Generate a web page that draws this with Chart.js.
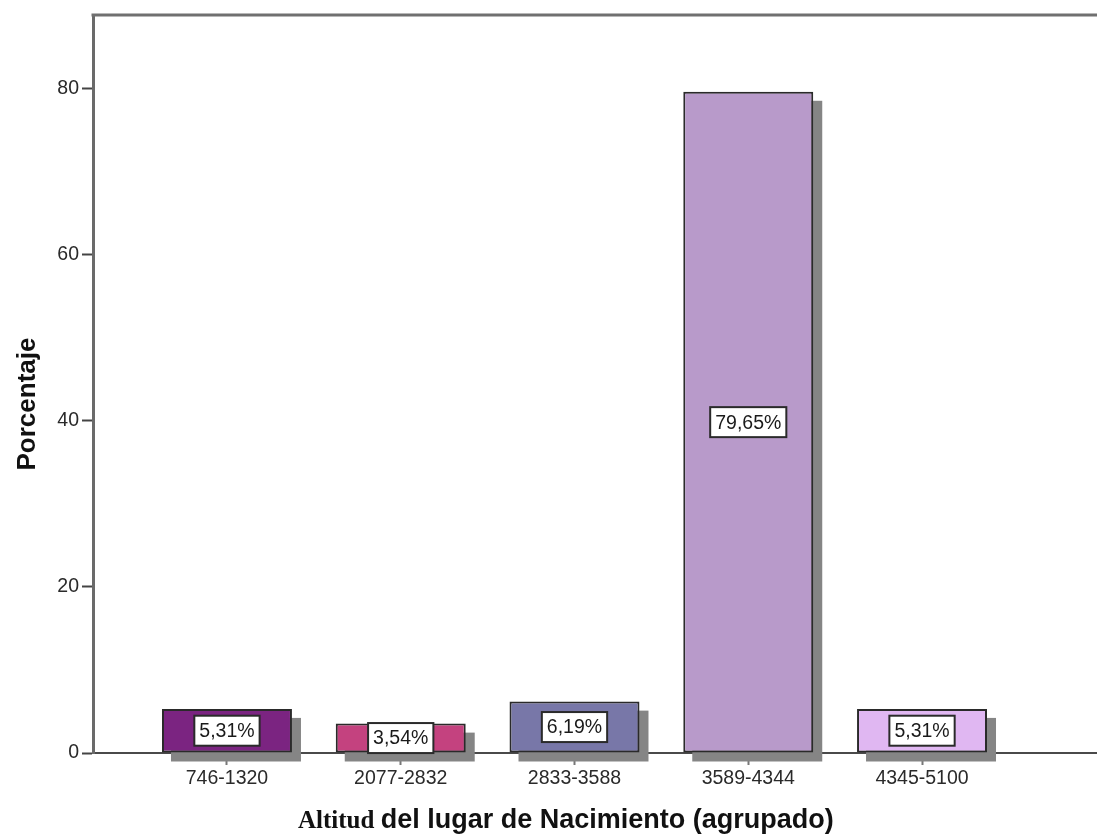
<!DOCTYPE html>
<html>
<head>
<meta charset="utf-8">
<script src="https://cdn.jsdelivr.net/npm/chart.js@4/dist/chart.umd.min.js"></script>
<style>
  html, body { margin: 0; padding: 0; background: #fff; }
  #wrap { width: 1097px; height: 835px; }
</style>
</head>
<body>
<div id="wrap"><canvas id="altitudChart"></canvas></div>
<script>
const categorias = ['746-1320', '2077-2832', '2833-3588', '3589-4344', '4345-5100'];
const porcentajes = [5.31, 3.54, 6.19, 79.65, 5.31];
const colores = ['#7b2481', '#c4427f', '#7877a8', '#b89aca', '#e0b7f2'];
const yTicks = [0, 20, 40, 60, 80];

const ctxAltitud = document.getElementById('altitudChart').getContext('2d');

// sombra gris detras de cada barra
const sombraBarras = {
  id: 'sombraBarras',
  beforeDatasetsDraw(chart) {
    const ctx = chart.ctx;
    const meta = chart.getDatasetMeta(0);
    ctx.save();
    ctx.fillStyle = '#858585';
    meta.data.forEach(bar => {
      const p = bar.getProps(['x', 'y', 'base', 'width'], true);
      ctx.fillRect(p.x - p.width / 2 + 9, p.y + 9, p.width, p.base - p.y);
    });
    ctx.restore();
  }
};

// etiquetas con porcentaje en cuadro blanco
const etiquetas = {
  id: 'etiquetas',
  afterDatasetsDraw(chart) {
    const ctx = chart.ctx;
    const meta = chart.getDatasetMeta(0);
    ctx.save();
    ctx.font = '19.5px "Liberation Sans", Arial, sans-serif';
    ctx.textAlign = 'center';
    ctx.textBaseline = 'middle';
    meta.data.forEach((bar, i) => {
      const p = bar.getProps(['x', 'y', 'base'], true);
      const txt = porcentajes[i].toFixed(2).replace('.', ',') + '%';
      const w = ctx.measureText(txt).width + 10;
      const h = 30;
      const cy = (p.y + p.base) / 2;
      ctx.fillStyle = '#ffffff';
      ctx.fillRect(p.x - w / 2, cy - h / 2, w, h);
      ctx.strokeStyle = '#2a2a2a';
      ctx.lineWidth = 2;
      ctx.strokeRect(p.x - w / 2, cy - h / 2, w, h);
      ctx.fillStyle = '#1a1a1a';
      ctx.fillText(txt, p.x, cy + 1);
    });
    ctx.restore();
  }
};

// marco superior y titulos de los ejes
const marcoYTitulos = {
  id: 'marcoYTitulos',
  afterDraw(chart) {
    const ctx = chart.ctx;
    const area = chart.chartArea;
    ctx.save();
    ctx.strokeStyle = '#707070';
    ctx.lineWidth = 3;
    ctx.beginPath();
    ctx.moveTo(area.left - 1.5, area.top);
    ctx.lineTo(chart.width, area.top);
    ctx.stroke();

    // titulo eje Y
    ctx.fillStyle = '#111111';
    ctx.font = 'bold 26px "Liberation Sans", Arial, sans-serif';
    ctx.textAlign = 'center';
    ctx.textBaseline = 'middle';
    ctx.translate(28, 404);
    ctx.rotate(-Math.PI / 2);
    ctx.fillText('Porcentaje', 0, 0);
    ctx.setTransform(1, 0, 0, 1, 0, 0);

    // titulo eje X (dos fuentes)
    ctx.textAlign = 'left';
    ctx.textBaseline = 'alphabetic';
    ctx.font = 'bold 25px "Liberation Serif", "Times New Roman", serif';
    ctx.fillText('Altitud', 298, 828);
    const w1 = ctx.measureText('Altitud ').width;
    ctx.font = 'bold 27px "Liberation Sans", Arial, sans-serif';
    ctx.fillText('del lugar de Nacimiento (agrupado)', 298 + w1, 828);
    ctx.restore();
  }
};

new Chart(ctxAltitud, {
  type: 'bar',
  data: {
    datasets: [{
      label: 'Porcentaje',
      data: porcentajes.map((v, i) => ({ x: i, y: v })),
      backgroundColor: colores,
      borderColor: '#2a2a2a',
      borderWidth: 2,
      borderSkipped: false,
      barPercentage: 0.748,
      categoryPercentage: 1
    }]
  },
  options: {
    responsive: true,
    maintainAspectRatio: false,
    animation: false,
    layout: { padding: { top: 15, left: 0, right: 0, bottom: 0 } },
    plugins: {
      legend: { display: false },
      tooltip: { enabled: false }
    },
    scales: {
      x: {
        type: 'linear',
        offset: false,
        min: -0.771,
        max: 5.007,
        afterBuildTicks: scale => { scale.ticks = categorias.map((c, i) => ({ value: i })); },
        afterFit: scale => { scale.height = 82; },
        ticks: {
          autoSkip: false,
          maxRotation: 0,
          padding: 2,
          color: '#2a2a2a',
          font: { family: '"Liberation Sans", Arial, sans-serif', size: 19.5 },
          callback: v => categorias[v]
        },
        grid: {
          offset: false,
          drawOnChartArea: false,
          tickLength: 12,
          tickColor: '#777777',
          tickWidth: 2
        },
        border: { color: '#4a4a4a', width: 2 }
      },
      y: {
        min: 0,
        max: 88.9,
        afterBuildTicks: scale => { scale.ticks = yTicks.map(v => ({ value: v })); },
        afterFit: scale => { scale.width = 93; },
        ticks: {
          padding: 3,
          color: '#2a2a2a',
          font: { family: '"Liberation Sans", Arial, sans-serif', size: 19.5 }
        },
        grid: {
          drawOnChartArea: false,
          tickLength: 11,
          tickColor: '#444444',
          tickWidth: 2
        },
        border: { color: '#6a6a6a', width: 3 }
      }
    }
  },
  plugins: [sombraBarras, etiquetas, marcoYTitulos]
});
</script>
</body>
</html>
